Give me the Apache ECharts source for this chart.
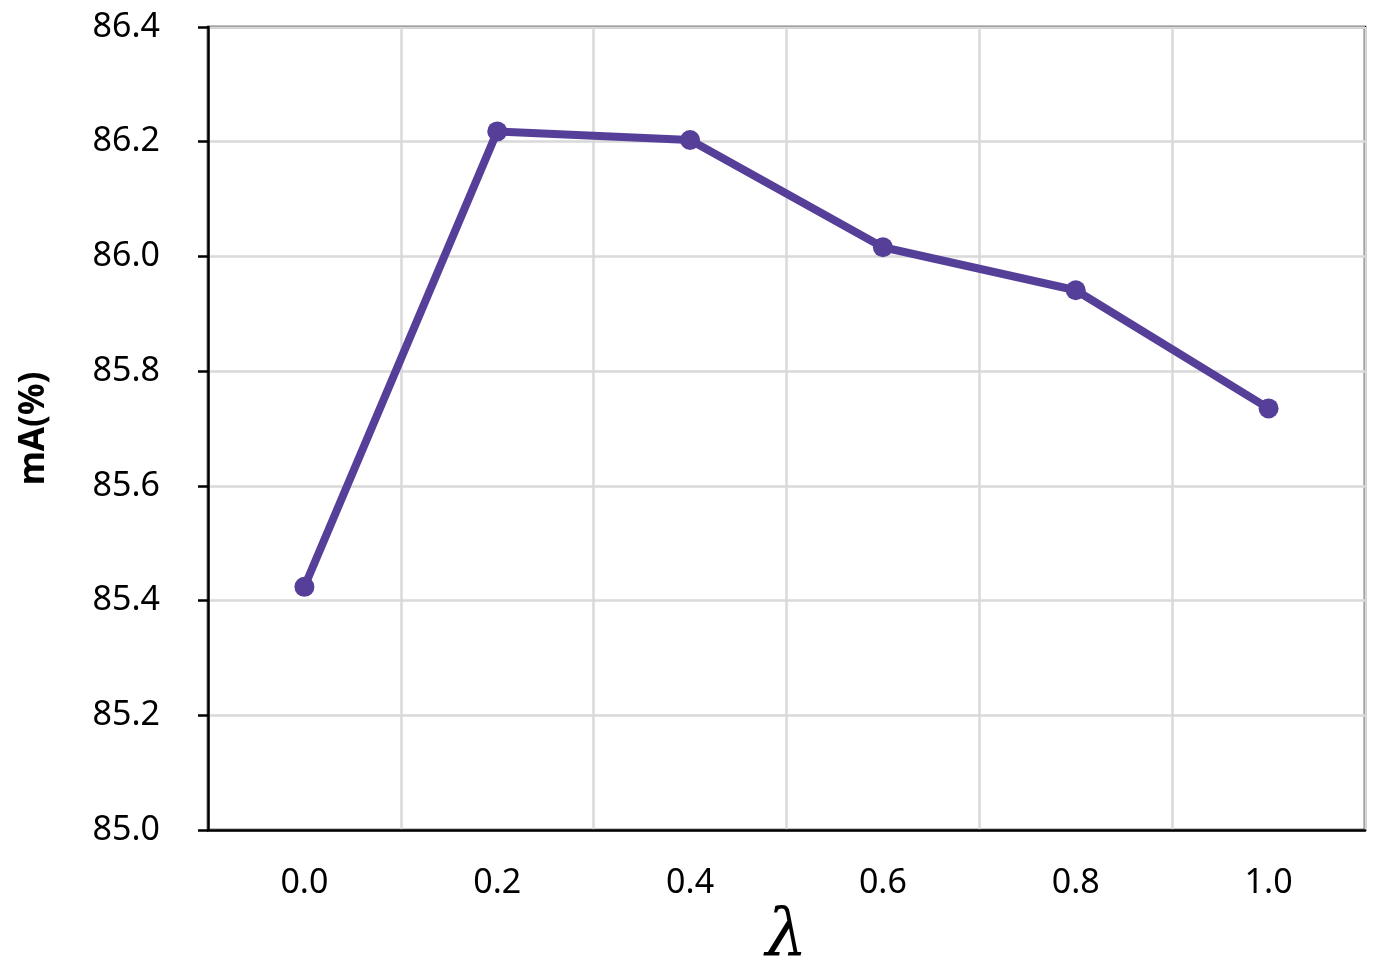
<!DOCTYPE html>
<html>
<head>
<meta charset="utf-8">
<script src="https://cdn.jsdelivr.net/npm/echarts@6/dist/echarts.min.js"></script>
<style>
html,body{margin:0;padding:0;background:#fff;}
#chart{width:1380px;height:977px;}
</style>
</head>
<body>
<div id="chart"></div>
<script>
const categories = ['0.0', '0.2', '0.4', '0.6', '0.8', '1.0'];
const mA = [85.424, 86.218, 86.203, 86.016, 85.941, 85.735];
const yTicks = { min: 85.0, max: 86.4, interval: 0.2 };
const xTitle = 'λ';
const yTitle = 'mA(%)';

const el = document.getElementById('chart');
const chart = echarts.init(el, null, { renderer: 'canvas' });
const font = '"Noto Sans", "Open Sans", sans-serif';
chart.setOption({
  animation: false,
  backgroundColor: '#fff',
  grid: {
    left: 208, right: 15, top: 27, bottom: 147,
    outerBoundsMode: 'none',
    containLabel: false,
    show: true, borderColor: '#000', borderWidth: 2.5, backgroundColor: 'transparent'
  },
  xAxis: {
    type: 'category',
    data: categories,
    boundaryGap: true,
    axisLine: { show: true, lineStyle: { color: '#000', width: 2.5 } },
    axisTick: { show: false },
    axisLabel: { color: '#000', fontSize: 34, fontFamily: font, margin: 36 },
    splitLine: { show: true, lineStyle: { color: '#d9d9d9', width: 2.5 } },
    name: xTitle,
    nameLocation: 'middle',
    nameGap: 72,
    nameTextStyle: { fontFamily: '"DejaVu Serif", "Liberation Serif", serif', fontStyle: 'italic', fontSize: 66, color: '#000' }
  },
  yAxis: {
    type: 'value',
    min: yTicks.min, max: yTicks.max, interval: yTicks.interval,
    axisLine: { show: true, lineStyle: { color: '#000', width: 2.5 } },
    axisTick: { show: true, inside: false, length: 10, lineStyle: { color: '#000', width: 2.5 } },
    axisLabel: { color: '#000', fontSize: 34, fontFamily: font, margin: 48, formatter: v => v.toFixed(1) },
    splitLine: { show: true, lineStyle: { color: '#d9d9d9', width: 2.5 } },
    name: yTitle,
    nameLocation: 'middle',
    nameGap: 156,
    nameRotate: 90,
    nameTextStyle: { fontFamily: font, fontWeight: 'bold', fontSize: 35, color: '#000' }
  },
  series: [{
    type: 'line',
    data: mA,
    symbol: 'circle',
    symbolSize: 20,
    itemStyle: { color: '#553f98' },
    lineStyle: { color: '#553f98', width: 8 },
    z: 5
  }]
});
</script>
</body>
</html>
